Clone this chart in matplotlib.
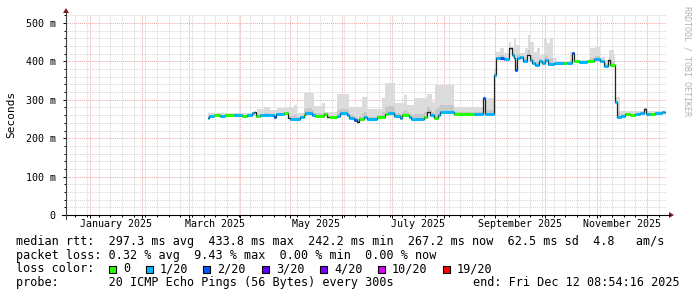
import numpy as np
import datetime as dt
import matplotlib
matplotlib.use("Agg")
import matplotlib.pyplot as plt
from matplotlib.patches import Rectangle, Polygon
from matplotlib.lines import Line2D

# ---------------- data ----------------
# x values are days since 2025-01-01 (graph covers the last 360 days up to the end time)
end_day = 345 + (8 + 54 / 60) / 24          # Fri Dec 12 08:54:16 2025
span_days = 360

# median RTT steps (ms) and loss class index (-1 = no loss colour drawn)
med_days = [70.4, 71.0, 74.0, 78.0, 81.0, 86.0, 91.0, 94.0, 97.0, 98.4, 99.6, 102.0, 106.0,
            110.4, 111.6, 116.0, 118.4, 120.0, 126.0, 128.0, 129.0, 133.0, 135.0, 140.0,
            142.0, 143.0, 148.0, 150.0, 154.0, 155.0, 158.0, 160.0, 161.0, 164.0, 166.0,
            172.0, 177.0, 178.4, 182.0, 185.6, 187.0, 191.0, 192.4, 198.0, 200.0, 202.0,
            203.6, 206.0, 208.4, 209.6, 218.0, 226.0, 230.0, 235.6, 236.6, 240.0, 242.4,
            243.4, 246.0, 248.4, 251.0, 253.0, 254.0, 255.0, 256.0, 257.6, 259.6, 262.0,
            263.6, 265.0, 267.0, 269.0, 271.0, 273.0, 274.4, 278.0, 284.0, 286.0, 289.0,
            290.4, 293.0, 298.0, 302.0, 306.0, 308.4, 310.4, 312.0, 315.0, 316.0, 318.4,
            321.0, 324.0, 327.0, 330.0, 332.0, 333.6, 336.0, 339.0, 343.0, 344.4]
med_ms = [251.7, 258.7, 260.4, 258.7, 260.4, 260.4, 258.7, 260.4, 265.0, 269.0, 257.8, 260.4, 259.5,
          256.0, 262.0, 264.8, 251.7, 250.0, 254.4, 260.4, 266.5, 260.4, 258.7, 262.0,
          256.0, 256.0, 258.7, 264.8, 260.4, 251.7, 247.4, 242.2, 250.0, 256.0, 249.0,
          256.0, 262.0, 264.8, 258.7, 253.5, 260.4, 256.0, 250.0, 251.0, 256.0, 269.0,
          260.4, 253.5, 260.4, 267.4, 263.0, 262.0, 263.0, 304.0, 263.0, 264.0, 364.6,
          408.0, 409.7, 406.0, 433.8, 416.7, 409.7, 377.6, 409.7, 412.3, 401.0, 416.7,
          403.6, 395.0, 390.6, 401.0, 395.0, 403.6, 392.4, 395.0, 395.0, 396.7, 421.0,
          401.0, 399.3, 401.0, 405.4, 401.0, 389.0, 403.6, 390.6, 295.0, 256.0, 258.7,
          263.9, 260.4, 262.0, 264.8, 276.0, 262.0, 262.0, 264.8, 269.0, 267.2]
med_loss = [1, 1, 0, 1, 0, 1, 0, 1, 1, -1, 0, 1, 1,
            2, 1, 0, -1, 1, 1, 0, 1, 1, 0, 0,
            -1, 0, 1, 1, 1, 1, 2, -1, 0, 1, 1,
            0, 0, 1, 1, 1, 0, 1, 1, 1, 0, -1,
            1, 0, 1, 1, 0, 0, 1, 2, 1, 1, 1,
            1, 2, 1, -1, 1, 1, 2, 1, 1, 1, -1,
            1, 1, 1, 1, 1, 1, 1, 1, 0, 1, 2,
            0, 1, 0, 1, 1, 1, -1, 0, 1, 1, 1,
            0, 0, 1, 1, -1, 1, 0, 1, 1, 1]

# smoke (max ping) envelope, ms
smoke_days = [70.0, 100.0, 104.0, 108.0, 112.0, 118.0, 122.0, 124.0, 128.0, 134.0, 139.0, 140.6,
              148.0, 155.0, 163.0, 166.0, 175.0, 177.0, 183.0, 188.0, 190.0, 194.0, 202.0, 205.0,
              207.0, 218.0, 236.0, 238.0, 242.4, 243.0, 246.0, 248.4, 251.0, 252.4, 254.0, 255.6,
              258.0, 261.0, 262.4, 264.0, 266.0, 268.0, 270.0, 272.0, 274.0, 276.0, 277.6, 280.0,
              288.0, 290.0, 300.0, 303.0, 306.0, 309.0, 311.0, 314.0, 315.0, 317.6, 332.0, 334.0]
smoke_max_ms = [265, 276, 280, 273, 279, 280, 287, 266, 317, 283, 291, 268,
                314, 282, 308, 276, 304, 343, 291, 312, 287, 304, 314, 295,
                339, 282, 296, 304, 382, 425, 434, 421, 451, 438, 460, 443,
                421, 434, 469, 451, 425, 434, 417, 460, 447, 460, 408, 401,
                425, 404, 434, 438, 412, 404, 430, 417, 308, 271, 282, 271]

loss_labels = ["0", "1/20", "2/20", "3/20", "4/20", "10/20", "19/20"]
loss_colors = ["#26ff00", "#00b8ff", "#0059ff", "#5e00ff", "#7e00ff", "#dd00ff", "#ff0000"]

month_starts = ["2025-01-01", "2025-02-01", "2025-03-01", "2025-04-01", "2025-05-01", "2025-06-01",
                "2025-07-01", "2025-08-01", "2025-09-01", "2025-10-01", "2025-11-01", "2025-12-01",
                "2026-01-01"]
label_months = ["January 2025", "March 2025", "May 2025", "July 2025", "September 2025", "November 2025"]
y_ticks = [0, 100, 200, 300, 400, 500]
y_ticklabels = ["0", "100 m", "200 m", "300 m", "400 m", "500 m"]

legend_lines = [
    "median rtt:  297.3 ms avg  433.8 ms max  242.2 ms min  267.2 ms now  62.5 ms sd  4.8   am/s",
    "packet loss: 0.32 % avg  9.43 % max  0.00 % min  0.00 % now",
]
probe_text = "probe:       20 ICMP Echo Pings (56 Bytes) every 300s"
end_text = "end: Fri Dec 12 08:54:16 2025"

# ---------------- figure ----------------
W, H = 697, 297
fig = plt.figure(figsize=(W / 100, H / 100), dpi=100, facecolor="white")

def fx(px):
    return px / W

def fy(py):
    return 1 - py / H

ax_l, ax_r, ax_t, ax_b = 66, 666, 15, 215
ax = fig.add_axes([fx(ax_l), fy(ax_b), (ax_r - ax_l) / W, (ax_b - ax_t) / H])
ax.set_facecolor("white")
x0 = end_day - span_days
ax.set_xlim(x0, end_day)
ax.set_ylim(0, (ax_b - ax_t) / 0.384)
for s in ax.spines.values():
    s.set_visible(False)

base = np.datetime64("2025-01-01")
ms_days = np.array([(np.datetime64(d) - base).astype(int) for d in month_starts], dtype=float)
mondays = np.arange(-9, 350, 7, dtype=float)

ax.set_xticks(ms_days[ms_days <= end_day])
ax.set_xticks(mondays[(mondays >= x0) & (mondays <= end_day)], minor=True)
ax.set_yticks(y_ticks)
ax.set_yticks(np.arange(0, 521, 20), minor=True)
ax.set_xticklabels([])
ax.set_yticklabels(y_ticklabels, family="DejaVu Sans Mono", fontsize=7.2)
ax.tick_params(axis="both", which="major", length=2.5, width=0.7, color="#000000", direction="out")
ax.tick_params(axis="both", which="minor", length=1.5, width=0.7, color="#000000", direction="out")
ax.tick_params(axis="y", pad=5)

ax.grid(which="minor", color="#d4d4d4", linestyle=(0, (1, 1)), linewidth=0.7)
ax.grid(which="major", color="#eaa8a8", linestyle=(0, (1, 1)), linewidth=0.7)
ax.set_axisbelow(True)

# month labels centred in the middle of the month
for lab in label_months:
    d = dt.datetime.strptime(lab, "%B %Y")
    st = (np.datetime64(d.strftime("%Y-%m-01")) - base).astype(int)
    nxt = (np.datetime64(d.strftime("%Y-%m"), "M") + 1).astype("datetime64[D]")
    en = (nxt - base).astype(int)
    ax.text((st + en) / 2, -9 / (ax_b - ax_t), lab, transform=ax.get_xaxis_transform(),
            ha="center", va="center", family="DejaVu Sans Mono", fontsize=7.2)

# smoke
md = np.array(med_days)
mm = np.array(med_ms)
sd = np.array(smoke_days)
sm = np.array(smoke_max_ms, dtype=float)
grid = np.union1d(md, sd)
grid = np.append(grid, end_day - 0.4)
grid = grid[(grid >= md[0])]
med_at = mm[np.clip(np.searchsorted(md, grid, side="right") - 1, 0, len(mm) - 1)]
sm_at = sm[np.clip(np.searchsorted(sd, grid, side="right") - 1, 0, len(sm) - 1)]
top = np.maximum(sm_at, med_at + 2)
ax.fill_between(grid, med_at - 3, top, step="post", color="#dcdcdc", linewidth=0, zorder=2)
inner = med_at + (top - med_at) * 0.25
ax.fill_between(grid, med_at - 3, inner, step="post", color="#c8c8c8", linewidth=0, zorder=2.1)

# median black step line
sx = np.append(md, end_day - 0.4)
sy = np.append(mm, mm[-1])
ax.step(sx, sy, where="post", color="#202020", linewidth=0.9, zorder=3)
# loss coloured segments
for i in range(len(md)):
    li = med_loss[i]
    if li < 0:
        continue
    x_end = md[i + 1] if i + 1 < len(md) else end_day - 0.4
    ax.hlines(mm[i], md[i], x_end, color=loss_colors[li], linewidth=2.2, zorder=4,
              capstyle="butt")

# axes lines and arrows (figure pixel coordinates)
fig.add_artist(Line2D([fx(62), fx(670)], [fy(215), fy(215)], color="black", lw=0.8))
fig.add_artist(Line2D([fx(66), fx(66)], [fy(219), fy(12)], color="#404040", lw=0.8))
fig.add_artist(Polygon([[fx(669), fy(212)], [fx(674), fy(215)], [fx(669), fy(218)]],
                       closed=True, color="#8b1a1a", lw=0))
fig.add_artist(Polygon([[fx(63), fy(13)], [fx(66), fy(8)], [fx(69), fy(13)]],
                       closed=True, color="#8b1a1a", lw=0))

# axis title and watermark
fig.text(fx(11), fy(114), "Seconds", rotation=90, ha="center", va="center",
         family="DejaVu Sans Mono", fontsize=8)
fig.text(fx(687), fy(6), "RRDTOOL / TOBI OETIKER", rotation=270, ha="center", va="top",
         family="DejaVu Sans Mono", fontsize=6, color="#b0b0b0")

# legend text
fs = 8.5
fig.text(fx(16), fy(241.5), legend_lines[0], ha="left", va="center", family="DejaVu Sans Mono", fontsize=fs)
fig.text(fx(16), fy(255.2), legend_lines[1], ha="left", va="center", family="DejaVu Sans Mono", fontsize=fs)
fig.text(fx(16), fy(269), "loss color:", ha="left", va="center", family="DejaVu Sans Mono", fontsize=fs)
sq_x = [109, 146, 203, 262, 320, 378, 443]
for px, lab, col in zip(sq_x, loss_labels, loss_colors):
    fig.add_artist(Rectangle((fx(px), fy(272.5)), 7 / W, 7 / H, facecolor=col,
                             edgecolor="black", lw=0.8))
    fig.text(fx(px + 14), fy(269), lab, ha="left", va="center", family="DejaVu Sans Mono", fontsize=fs)
fig.text(fx(16), fy(282.7), probe_text, ha="left", va="center", family="DejaVu Sans Mono", fontsize=fs)
fig.text(fx(680), fy(282.7), end_text, ha="right", va="center", family="DejaVu Sans Mono", fontsize=fs)

fig.savefig("out.png", dpi=100, facecolor="white")
